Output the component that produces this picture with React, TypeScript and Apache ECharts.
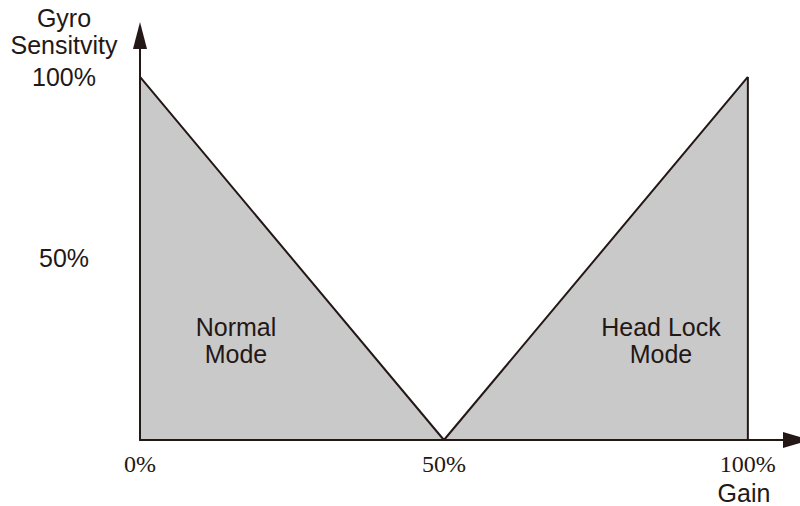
import React, { useEffect, useRef } from "react";
import * as echarts from "echarts";

const gain = [0, 50, 100];
const sensitivity = [100, 0, 100];
const headLockEdge = [
  [100, 0],
  [100, 100],
];
const xTicks = [0, 50, 100];
const xTickLabels = ["0%", "50%", "100%"];
const yTicks = [50, 100];
const yTickLabels = ["50%", "100%"];
const yAxisTitle = "Gyro\nSensitvity";
const xAxisTitle = "Gain";
const regionLabels = ["Normal\nMode", "Head Lock\nMode"];

const INK = "#231815";
const FILL = "#c9c9c9";
const SANS = "'Liberation Sans', Arial, Helvetica, sans-serif";
const SERIF = "'Liberation Serif', 'Times New Roman', serif";

export default function App() {
  const ref = useRef<HTMLDivElement>(null);
  useEffect(() => {
    if (!ref.current) return;
    const chart = echarts.init(ref.current, null, { renderer: "svg" });
    const lineData = gain.map((g, i) => [g, sensitivity[i]]);
    chart.setOption({
      animation: false,
      backgroundColor: "#ffffff",
      grid: { left: 140, right: 3.5, top: 35.5, bottom: 66, containLabel: false },
      xAxis: {
        type: "value",
        min: 0,
        max: 108,
        z: 5,
        axisLine: {
          show: true,
          lineStyle: { color: INK, width: 2 },
          symbol: ["none", "triangle"],
          symbolSize: [16, 27],
        },
        axisTick: { show: false },
        splitLine: { show: false },
        axisLabel: {
          customValues: xTicks,
          formatter: (v: number) => {
            const i = xTicks.indexOf(v);
            return i >= 0 ? xTickLabels[i] : "";
          },
          fontFamily: SERIF,
          fontSize: 24,
          color: INK,
          margin: 12,
        },
      },
      yAxis: {
        type: "value",
        min: 0,
        max: 111.4,
        z: 5,
        axisLine: {
          show: true,
          lineStyle: { color: INK, width: 2 },
          symbol: ["none", "triangle"],
          symbolSize: [14, 27],
        },
        axisTick: { show: false },
        splitLine: { show: false },
        axisLabel: {
          customValues: yTicks,
          formatter: (v: number) => {
            const i = yTicks.indexOf(v);
            return i >= 0 ? yTickLabels[i] : "";
          },
          fontFamily: SANS,
          fontSize: 25,
          color: INK,
          align: "center",
          margin: 76,
        },
      },
      series: [
        {
          type: "line",
          data: lineData,
          symbol: "none",
          lineStyle: { color: INK, width: 2 },
          areaStyle: { color: FILL, opacity: 1 },
          z: 2,
        },
        {
          type: "line",
          data: headLockEdge,
          symbol: "none",
          lineStyle: { color: INK, width: 2 },
          z: 3,
        },
      ],
      graphic: [
        {
          type: "text",
          x: 64,
          y: 4,
          style: {
            text: yAxisTitle,
            fontFamily: SANS,
            fontSize: 25,
            lineHeight: 27,
            fill: INK,
            align: "center",
            verticalAlign: "top",
          },
        },
        {
          type: "text",
          x: 744,
          y: 493,
          style: {
            text: xAxisTitle,
            fontFamily: SANS,
            fontSize: 25,
            fill: INK,
            align: "center",
            verticalAlign: "middle",
          },
        },
        {
          type: "text",
          x: 236,
          y: 340,
          z: 10,
          style: {
            text: regionLabels[0],
            fontFamily: SANS,
            fontSize: 25,
            lineHeight: 27,
            fill: INK,
            align: "center",
            verticalAlign: "middle",
          },
        },
        {
          type: "text",
          x: 661,
          y: 340,
          z: 10,
          style: {
            text: regionLabels[1],
            fontFamily: SANS,
            fontSize: 25,
            lineHeight: 27,
            fill: INK,
            align: "center",
            verticalAlign: "middle",
          },
        },
      ],
    });
    return () => chart.dispose();
  }, []);
  return (
    <div
      ref={ref}
      style={{ position: "fixed", left: 0, top: 0, width: 800, height: 506 }}
    />
  );
}
